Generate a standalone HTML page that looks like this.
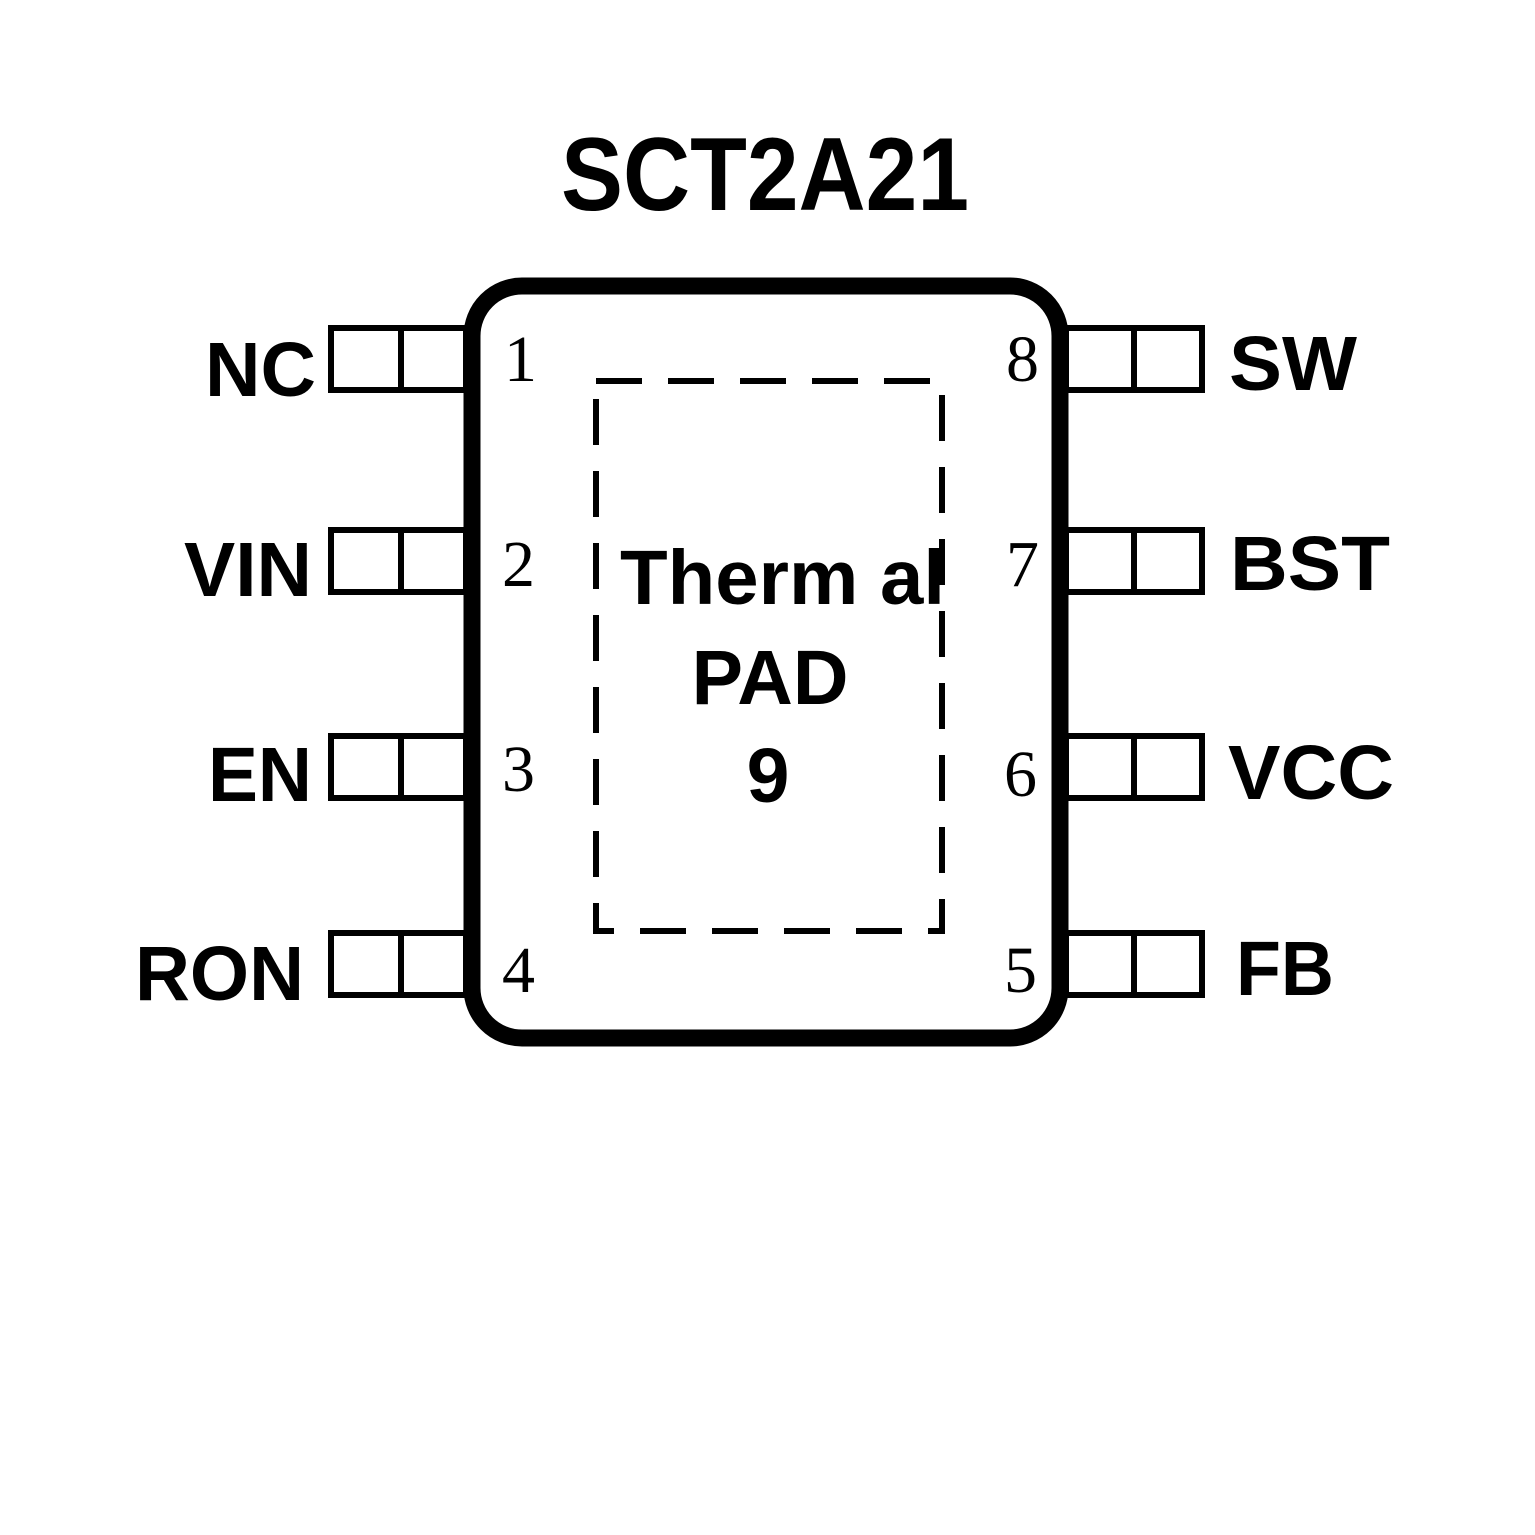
<!DOCTYPE html>
<html><head><meta charset="utf-8"><style>
html,body{margin:0;padding:0;background:#fff;}
svg{display:block;}
.lb{font-family:"Liberation Sans",Arial,sans-serif;font-weight:bold;font-size:77px;fill:#000;}
.nm{font-family:"Liberation Serif",serif;font-size:66px;fill:#000;}
</style></head><body>
<svg width="1535" height="1535" viewBox="0 0 1535 1535" xmlns="http://www.w3.org/2000/svg">
<rect width="1535" height="1535" fill="#fff"/>
<text x="765" y="210" text-anchor="middle" font-family="Liberation Sans,Arial,sans-serif" font-weight="bold" font-size="104" textLength="408" lengthAdjust="spacingAndGlyphs" fill="#000">SCT2A21</text>
<g fill="#fff" stroke="#000" stroke-width="6">
<rect x="331" y="328" width="135" height="62"/><line x1="401" y1="328" x2="401" y2="390"/>
<rect x="331" y="530" width="135" height="62"/><line x1="401" y1="530" x2="401" y2="592"/>
<rect x="331" y="736" width="135" height="62"/><line x1="401" y1="736" x2="401" y2="798"/>
<rect x="331" y="933" width="135" height="62"/><line x1="401" y1="933" x2="401" y2="995"/>
<rect x="1066" y="328" width="136" height="62"/><line x1="1134" y1="328" x2="1134" y2="390"/>
<rect x="1066" y="530" width="136" height="62"/><line x1="1134" y1="530" x2="1134" y2="592"/>
<rect x="1066" y="736" width="136" height="62"/><line x1="1134" y1="736" x2="1134" y2="798"/>
<rect x="1066" y="933" width="136" height="62"/><line x1="1134" y1="933" x2="1134" y2="995"/>
</g>
<rect x="472" y="286" width="588" height="752" rx="50" ry="50" fill="#fff" stroke="#000" stroke-width="17"/>
<rect x="596" y="381" width="346" height="550" fill="none" stroke="#000" stroke-width="6" stroke-dasharray="46,26"/>
<text class="lb" x="316" y="396" text-anchor="end" textLength="111" lengthAdjust="spacingAndGlyphs">NC</text>
<text class="lb" x="312" y="596" text-anchor="end" textLength="128" lengthAdjust="spacingAndGlyphs">VIN</text>
<text class="lb" x="312" y="801" text-anchor="end" textLength="104" lengthAdjust="spacingAndGlyphs">EN</text>
<text class="lb" x="304" y="1000" text-anchor="end" textLength="169" lengthAdjust="spacingAndGlyphs">RON</text>
<text class="lb" x="1229" y="390" textLength="128" lengthAdjust="spacingAndGlyphs">SW</text>
<text class="lb" x="1230" y="590" textLength="160" lengthAdjust="spacingAndGlyphs">BST</text>
<text class="lb" x="1228" y="799" textLength="166" lengthAdjust="spacingAndGlyphs">VCC</text>
<text class="lb" x="1236" y="995" textLength="98" lengthAdjust="spacingAndGlyphs">FB</text>
<text class="nm" x="504" y="381">1</text>
<text class="nm" x="502" y="586">2</text>
<text class="nm" x="502" y="791">3</text>
<text class="nm" x="502" y="992">4</text>
<text class="nm" x="1006" y="381">8</text>
<text class="nm" x="1006" y="586">7</text>
<text class="nm" x="1004" y="796">6</text>
<text class="nm" x="1004" y="992">5</text>
<text class="lb" x="620" y="604" font-size="76" textLength="325" lengthAdjust="spacingAndGlyphs">Therm al</text>
<text class="lb" x="770" y="704" font-size="76" text-anchor="middle">PAD</text>
<text class="lb" x="768" y="802" font-size="76" text-anchor="middle">9</text>
</svg>
</body></html>
